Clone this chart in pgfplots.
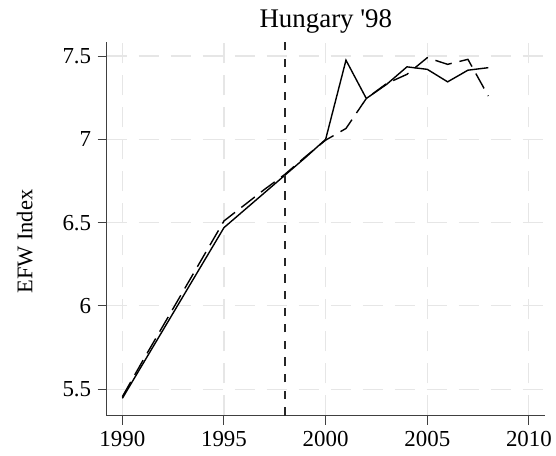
\documentclass[border=0pt]{standalone}
\usepackage{pgfplots}
\pgfplotsset{compat=1.18}
\usepackage{fontspec}
\setmainfont{Liberation Serif}
\definecolor{gridc}{HTML}{E6E6E6}
\begin{document}
\begin{tikzpicture}
\useasboundingbox (-106.7bp,-40.5bp) rectangle (449.3bp,415.5bp);
\begin{axis}[
  at={(0,0)}, anchor=south west,
  scale only axis, width=438.3bp, height=373.8bp,
  xmin=1989.23, xmax=2010.79,
  ymin=5.342, ymax=7.586,
  axis x line*=bottom, axis y line*=left,
  axis line style={-, line width=1bp, color=black!75},
  xtick={1990,1995,...,2010},
  ytick={5.5,6,6.5,7,7.5},
  xticklabels={1990,1995,2000,2005,2010},
  yticklabels={5.5,6,6.5,7,7.5},
  tick align=outside,
  major tick length=9bp,
  tick style={line width=1bp, color=black!75},
  grid=major,
  major grid style={gridc, line width=1.1bp, dash pattern=on 20bp off 12bp},
  tick label style={font=\fontsize{23}{26}\selectfont},
  xticklabel style={yshift=-3bp},
  yticklabel style={xshift=-3bp},
  title={Hungary \textquotesingle98},
  title style={at={(0.5,1)}, anchor=base, yshift=8.5bp, font=\fontsize{27}{30}\selectfont},
  ylabel={EFW Index},
  ylabel style={at={(axis description cs:-0.187,0.465)}, anchor=center, rotate=0, font=\fontsize{22.5}{25}\selectfont},
  clip=false,
]
\addplot[black, line width=1.4bp] coordinates {
(1990,5.445) (1991,5.65) (1992,5.855) (1993,6.06) (1994,6.265) (1995,6.47)
(1996,6.575) (1997,6.68) (1998,6.785) (1999,6.89) (2000,7.0) (2001,7.475)
(2002,7.245) (2003,7.33) (2004,7.435) (2005,7.42) (2006,7.345) (2007,7.415) (2008,7.43)};
\addplot[black, line width=1.4bp, dash pattern=on 17bp off 8bp] coordinates {
(1990,5.455) (1991,5.67) (1992,5.88) (1993,6.09) (1994,6.30) (1995,6.51)
(1996,6.605) (1997,6.70) (1998,6.79) (1999,6.895) (2000,6.995) (2001,7.065)
(2002,7.245) (2003,7.335) (2004,7.39) (2005,7.49) (2006,7.45) (2007,7.48) (2008,7.26)};
\addplot[black!85, line width=2bp, dash pattern=on 8.3bp off 8.3bp] coordinates {(1998,5.342) (1998,7.586)};
\end{axis}
\end{tikzpicture}
\end{document}
